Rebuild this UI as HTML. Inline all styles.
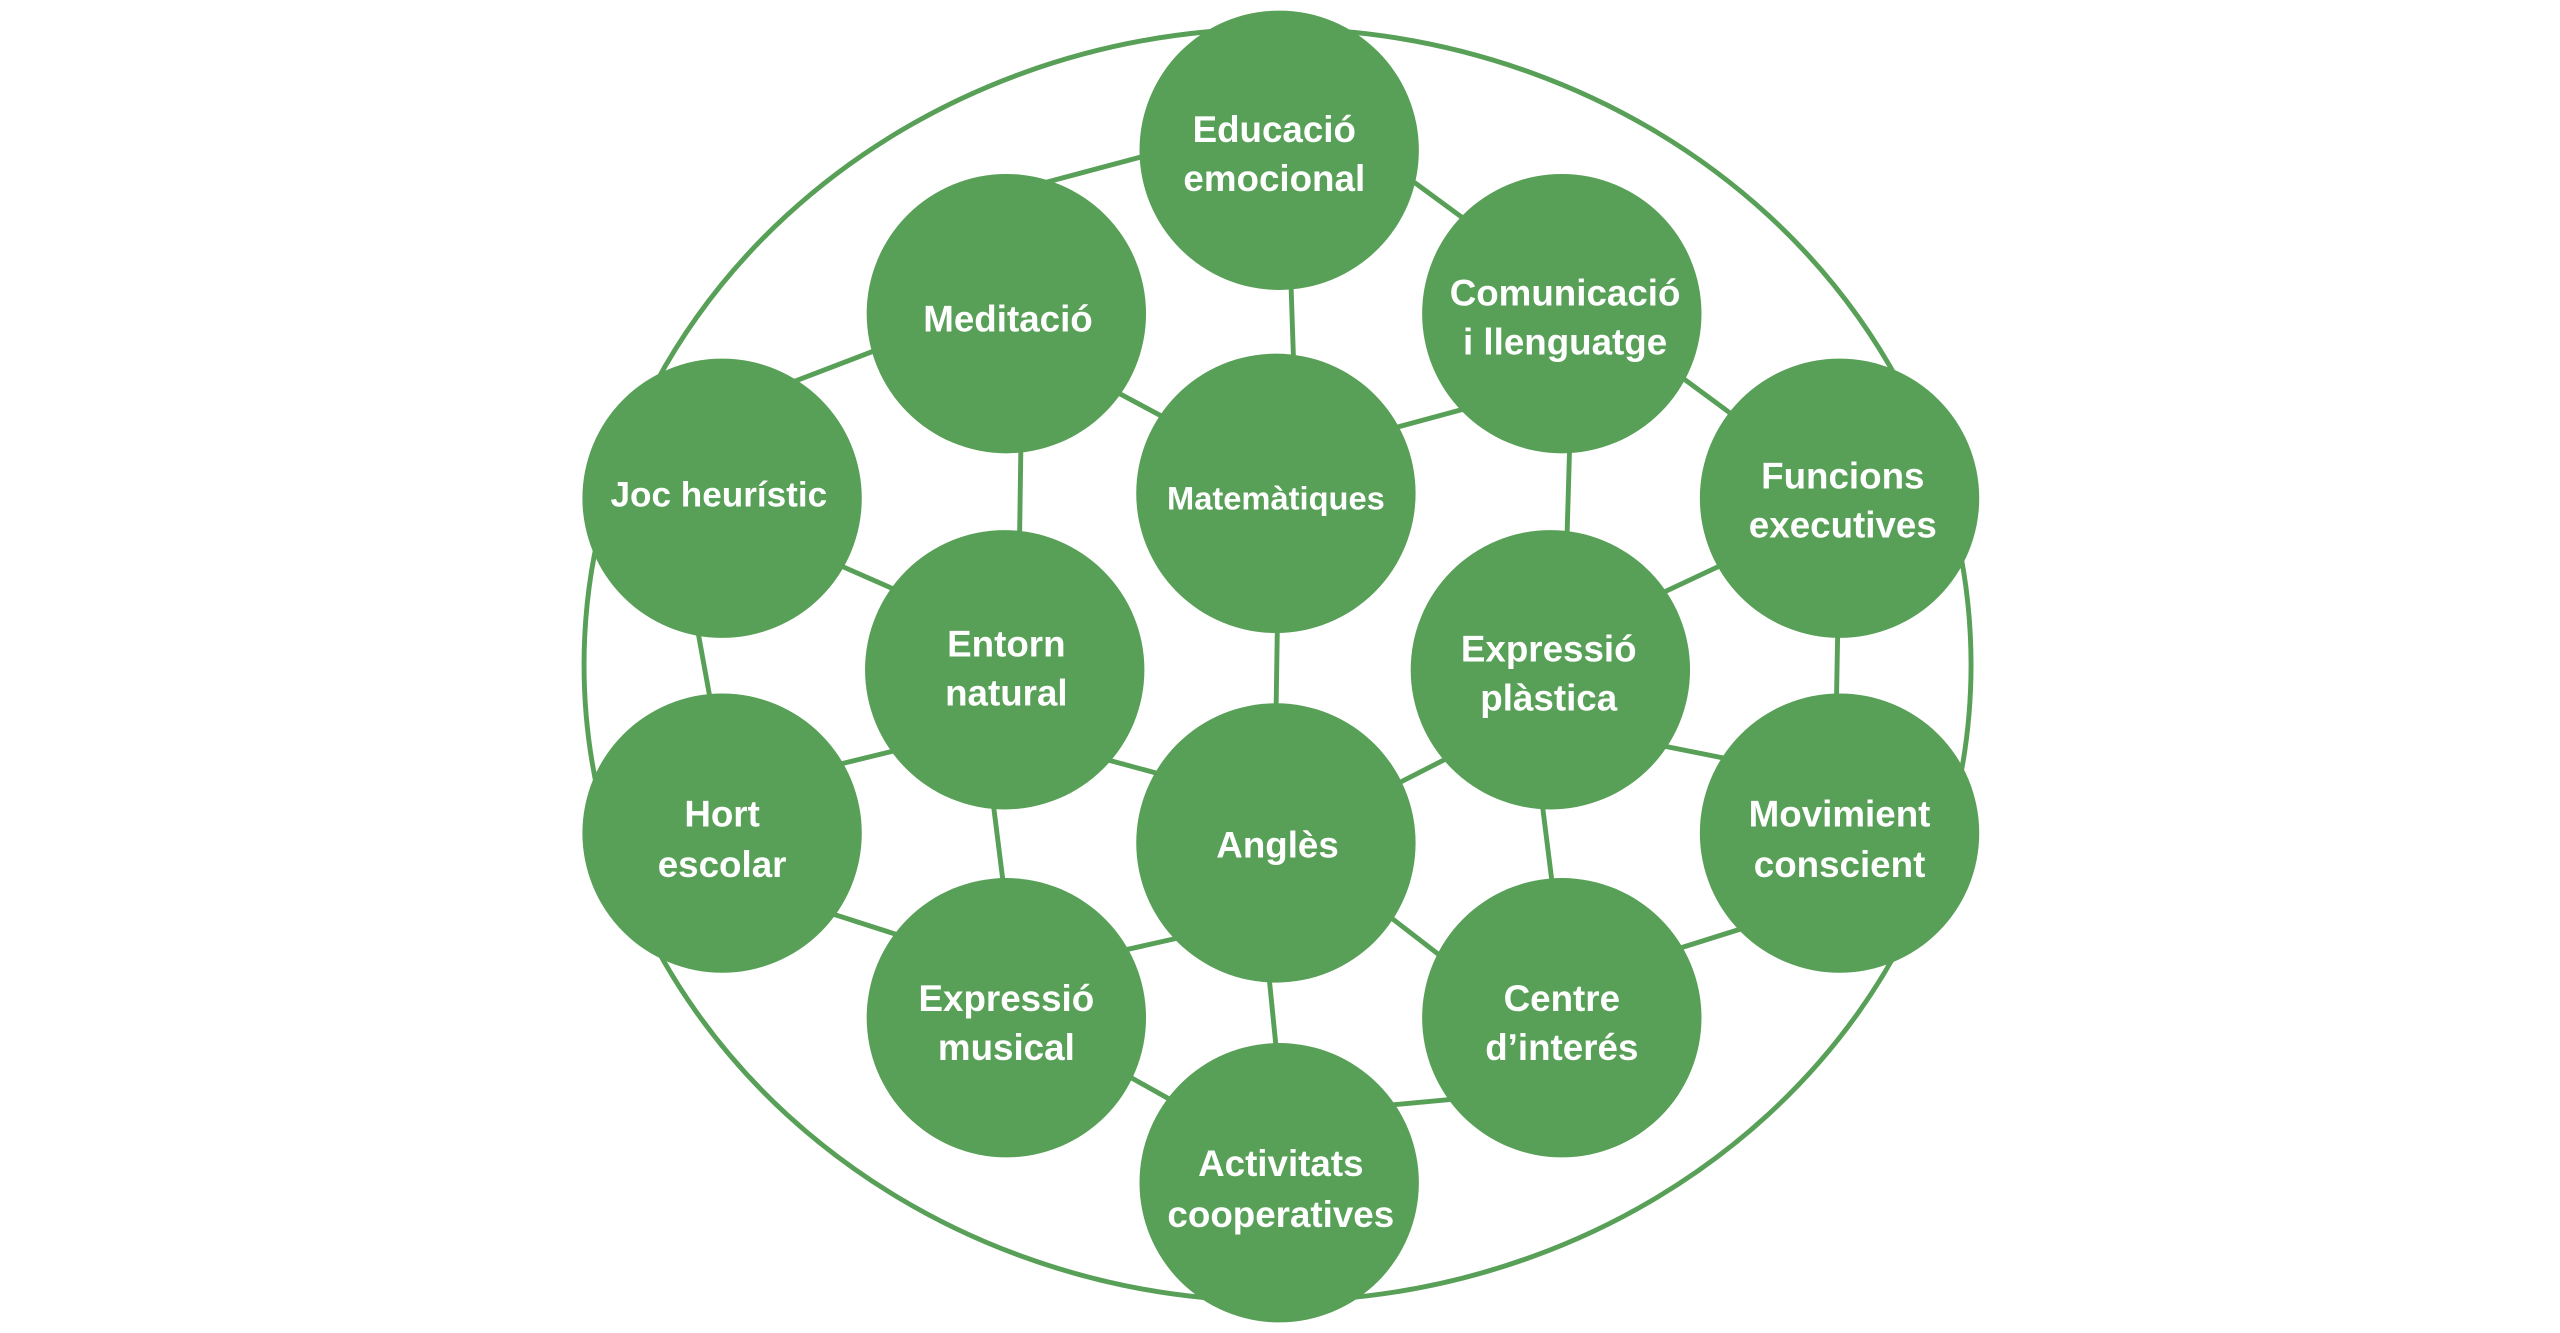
<!DOCTYPE html>
<html><head><meta charset="utf-8"><style>
html,body{margin:0;padding:0;background:#fff;}
svg{display:block;}
text{font-family:"Liberation Sans",sans-serif;font-weight:bold;fill:#fff;font-size:22.5px;text-anchor:middle;}
</style></head><body>
<svg width="2560" height="1333" viewBox="0 0 1567 816" preserveAspectRatio="none" xmlns="http://www.w3.org/2000/svg">
<ellipse cx="782" cy="407" rx="424.5" ry="389.5" fill="none" stroke="#58a057" stroke-width="3"/>
<g stroke="#58a057" stroke-width="3">
<line x1="635" y1="113" x2="710" y2="93"/>
<line x1="858" y1="106" x2="903" y2="139"/>
<line x1="790" y1="167" x2="792" y2="227"/>
<line x1="477" y1="237" x2="545" y2="211"/>
<line x1="676" y1="236" x2="719" y2="259"/>
<line x1="625" y1="266" x2="624" y2="335"/>
<line x1="846" y1="264" x2="905" y2="248"/>
<line x1="1024" y1="227" x2="1066" y2="258"/>
<line x1="961" y1="266" x2="959" y2="335"/>
<line x1="507" y1="343" x2="557" y2="365"/>
<line x1="426" y1="380" x2="436" y2="435"/>
<line x1="1011" y1="366" x2="1060" y2="343"/>
<line x1="1125" y1="380" x2="1124" y2="435"/>
<line x1="782" y1="376" x2="781" y2="441"/>
<line x1="505" y1="470" x2="558" y2="457"/>
<line x1="670" y1="463" x2="718" y2="476"/>
<line x1="607" y1="484" x2="615" y2="548"/>
<line x1="849" y1="483" x2="894" y2="460"/>
<line x1="1010" y1="455" x2="1065" y2="466"/>
<line x1="943" y1="484" x2="951" y2="548"/>
<line x1="502" y1="557" x2="558" y2="575"/>
<line x1="682" y1="583" x2="731" y2="572"/>
<line x1="844" y1="556" x2="888" y2="590"/>
<line x1="776" y1="590" x2="782" y2="650"/>
<line x1="1020" y1="583" x2="1074" y2="566"/>
<line x1="684" y1="655" x2="725" y2="678"/>
<line x1="845" y1="677" x2="899" y2="672"/>
</g>
<g fill="#58a057">
<circle cx="783" cy="92" r="85.5"/>
<circle cx="616" cy="192" r="85.5"/>
<circle cx="956" cy="192" r="85.5"/>
<circle cx="442" cy="305" r="85.5"/>
<circle cx="781" cy="302" r="85.5"/>
<circle cx="1126" cy="305" r="85.5"/>
<circle cx="615" cy="410" r="85.5"/>
<circle cx="949" cy="410" r="85.5"/>
<circle cx="442" cy="510" r="85.5"/>
<circle cx="781" cy="516" r="85.5"/>
<circle cx="1126" cy="510" r="85.5"/>
<circle cx="616" cy="623" r="85.5"/>
<circle cx="956" cy="623" r="85.5"/>
<circle cx="783" cy="724" r="85.5"/>
</g>
<text x="780" y="87">Educació</text><text x="780" y="117">emocional</text>
<text x="617" y="203">Meditació</text>
<text x="958" y="187">Comunicació</text><text x="958" y="217">i llenguatge</text>
<text x="440" y="310" style="font-size:21.5px">Joc heurístic</text>
<text x="781" y="312" style="font-size:20px">Matemàtiques</text>
<text x="1128" y="299">Funcions</text><text x="1128" y="329">executives</text>
<text x="616" y="402">Entorn</text><text x="616" y="432">natural</text>
<text x="948" y="405">Expressió</text><text x="948" y="435">plàstica</text>
<text x="442" y="506">Hort</text><text x="442" y="537">escolar</text>
<text x="782" y="525">Anglès</text>
<text x="1126" y="506">Movimient</text><text x="1126" y="537">conscient</text>
<text x="616" y="619">Expressió</text><text x="616" y="649">musical</text>
<text x="956" y="619">Centre</text><text x="956" y="649">d’interés</text>
<text x="784" y="720">Activitats</text><text x="784" y="751">cooperatives</text>
</svg>
</body></html>
